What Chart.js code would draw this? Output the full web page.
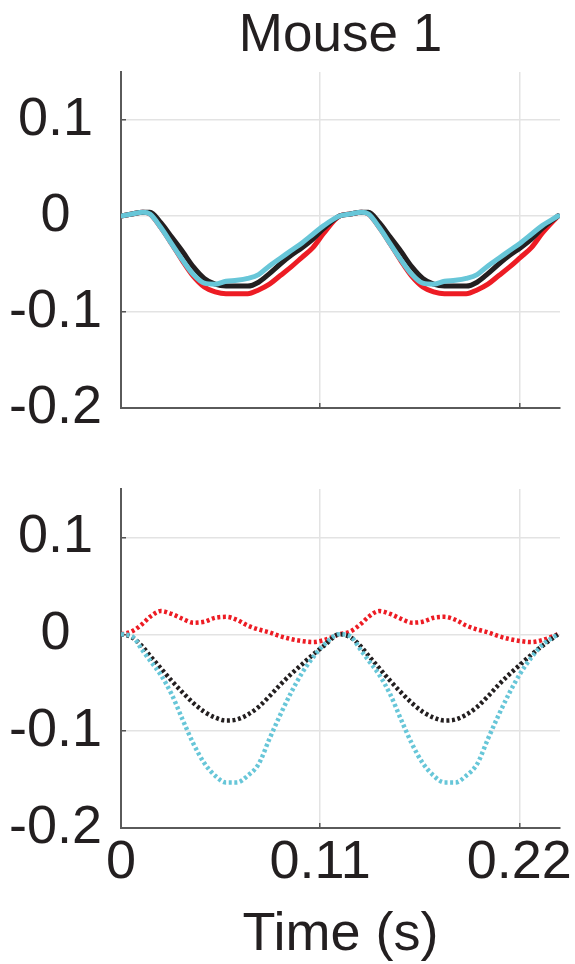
<!DOCTYPE html>
<html>
<head>
<meta charset="utf-8">
<script src="https://cdn.jsdelivr.net/npm/chart.js@4/dist/chart.umd.min.js"></script>
<style>
  body { margin: 0; background: #fff; }
  canvas { position: absolute; left: 0; }
  #topPlot { top: 0; }
  #bottomPlot { top: 440px; }
</style>
</head>
<body>
<canvas id="topPlot" width="575" height="440"></canvas>
<canvas id="bottomPlot" width="575" height="524"></canvas>
<script>
// sample times (s), two cycles
const time = [0, 0.006, 0.012, 0.016, 0.022, 0.028, 0.034, 0.040, 0.046, 0.052,
  0.058, 0.064, 0.070, 0.076, 0.082, 0.088, 0.094, 0.100, 0.106, 0.112,
  0.1207, 0.1267, 0.1327, 0.1367, 0.1427, 0.1487, 0.1547, 0.1607, 0.1667, 0.1727,
  0.1787, 0.1847, 0.1907, 0.1967, 0.2027, 0.2087, 0.2147, 0.2207, 0.2267, 0.2327, 0.2414];

// upper panel, solid traces
const cyanSolid = [0, 0.002, 0.004, 0.002, -0.012, -0.029, -0.046, -0.061, -0.070, -0.071,
  -0.068, -0.067, -0.065, -0.061, -0.052, -0.044, -0.036, -0.028, -0.019, -0.010,
  0, 0.002, 0.004, 0.002, -0.012, -0.029, -0.046, -0.061, -0.070, -0.071,
  -0.068, -0.067, -0.065, -0.061, -0.052, -0.044, -0.036, -0.028, -0.019, -0.010, 0];
const blackSolid = [0, 0.002, 0.004, 0.004, -0.007, -0.022, -0.037, -0.053, -0.065, -0.071,
  -0.073, -0.073, -0.073, -0.069, -0.060, -0.050, -0.041, -0.033, -0.024, -0.013,
  0, 0.002, 0.004, 0.004, -0.007, -0.022, -0.037, -0.053, -0.065, -0.071,
  -0.073, -0.073, -0.073, -0.069, -0.060, -0.050, -0.041, -0.033, -0.024, -0.013, 0];
const redSolid = [0, 0.002, 0.004, 0.002, -0.012, -0.029, -0.047, -0.063, -0.074, -0.079,
  -0.081, -0.081, -0.081, -0.077, -0.071, -0.062, -0.053, -0.043, -0.033, -0.018,
  0, 0.002, 0.004, 0.002, -0.012, -0.029, -0.047, -0.063, -0.074, -0.079,
  -0.081, -0.081, -0.081, -0.077, -0.071, -0.062, -0.053, -0.043, -0.033, -0.018, 0];

// lower panel, dotted traces
const cyanDotted = [0, -0.002, -0.017, -0.027, -0.042, -0.062, -0.088, -0.113, -0.133, -0.146,
  -0.153, -0.153, -0.146, -0.134, -0.108, -0.083, -0.060, -0.040, -0.024, -0.011,
  0, -0.002, -0.017, -0.027, -0.042, -0.062, -0.088, -0.113, -0.133, -0.146,
  -0.153, -0.153, -0.146, -0.134, -0.108, -0.083, -0.060, -0.040, -0.024, -0.011, 0];
const blackDotted = [0, -0.003, -0.013, -0.022, -0.035, -0.048, -0.060, -0.071, -0.080, -0.086,
  -0.089, -0.088, -0.083, -0.075, -0.064, -0.052, -0.041, -0.031, -0.021, -0.012,
  0, -0.003, -0.013, -0.022, -0.035, -0.048, -0.060, -0.071, -0.080, -0.086,
  -0.089, -0.088, -0.083, -0.075, -0.064, -0.052, -0.041, -0.031, -0.021, -0.012, 0];
const redDotted = [0, 0.003, 0.011, 0.018, 0.024, 0.021, 0.016, 0.012, 0.013, 0.017,
  0.018, 0.015, 0.009, 0.005, 0.002, -0.002, -0.005, -0.007, -0.008, -0.006,
  0, 0.003, 0.011, 0.018, 0.024, 0.021, 0.016, 0.012, 0.013, 0.017,
  0.018, 0.015, 0.009, 0.005, 0.002, -0.002, -0.005, -0.007, -0.008, -0.006, 0];

const yTicks = [-0.2, -0.1, 0, 0.1];
const xTicks = [0, 0.11, 0.22];

const FONT = 'Liberation Sans, Arial, sans-serif';
const TEXT = '#231f20';
const BLACK = '#231f20';
const RED = '#ed1c24';
const CYAN = '#67c6d8';

function line(data, color, dotted) {
  return {
    data: data,
    borderColor: color,
    borderWidth: dotted ? 4.5 : 5,
    borderDash: dotted ? [3, 2.6] : [],
    borderCapStyle: dotted ? 'butt' : 'round',
    borderJoinStyle: 'round',
    pointRadius: 0,
    cubicInterpolationMode: 'monotone',
    fill: false
  };
}

const gridOpts = { color: '#e3e3e3', lineWidth: 1.5, tickLength: -5, tickColor: '#555', tickWidth: 1.5 };
const borderOpts = { color: '#5a5a5a', width: 2 };

function scales(showX, xHeight) {
  return {
    x: {
      type: 'linear', min: 0, max: 0.2425,
      afterBuildTicks: s => { s.ticks = xTicks.map(v => ({ value: v })); },
      afterFit: s => { s.height = xHeight; s.paddingLeft = 0; s.paddingRight = 0; },
      ticks: { display: showX, maxRotation: 0, padding: 8, font: { family: FONT, size: 54 }, color: TEXT,
        callback: v => String(v) },
      title: { display: showX, text: 'Time (s)', font: { family: FONT, size: 54, lineHeight: 1 }, color: TEXT,
        padding: { top: 0, bottom: 1.7 } },
      grid: gridOpts,
      border: borderOpts
    },
    y: {
      min: -0.2, max: 0.15,
      afterBuildTicks: s => { s.ticks = yTicks.map(v => ({ value: v })); },
      afterFit: s => { s.width = 121; s.paddingTop = 0; s.paddingBottom = 0; },
      ticks: { crossAlign: 'center', padding: 24, font: { family: FONT, size: 54 }, color: TEXT,
        callback: v => String(v) },
      grid: gridOpts,
      border: borderOpts
    }
  };
}

// upper panel
new Chart(document.getElementById('topPlot'), {
  type: 'line',
  data: {
    labels: time,
    datasets: [line(cyanSolid, CYAN, false), line(blackSolid, BLACK, false), line(redSolid, RED, false)]
  },
  options: {
    responsive: false,
    animation: false,
    layout: { padding: { left: 0, right: 15, top: 0, bottom: 0 } },
    plugins: {
      legend: { display: false },
      tooltip: { enabled: false },
      title: { display: true, text: 'Mouse 1', fullSize: false, color: TEXT,
        font: { family: FONT, size: 53, weight: 'normal' }, padding: { top: 5, bottom: 3.4 } }
    },
    scales: scales(false, 32)
  }
});

// lower panel
new Chart(document.getElementById('bottomPlot'), {
  type: 'line',
  data: {
    labels: time,
    datasets: [line(cyanDotted, CYAN, true), line(blackDotted, BLACK, true), line(redDotted, RED, true)]
  },
  options: {
    responsive: false,
    animation: false,
    layout: { padding: { left: 0, right: 15, top: 49, bottom: 0 } },
    plugins: { legend: { display: false }, tooltip: { enabled: false } },
    scales: scales(true, 136)
  }
});
</script>
</body>
</html>
